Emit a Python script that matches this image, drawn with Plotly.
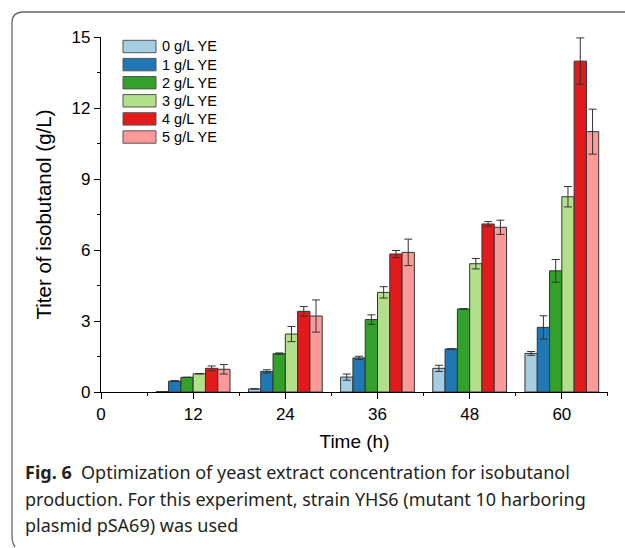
import plotly.graph_objects as go

# ---- data ----
times = [12, 24, 36, 48, 60]
series_names = ["0 g/L YE", "1 g/L YE", "2 g/L YE", "3 g/L YE", "4 g/L YE", "5 g/L YE"]
colors = ["#a6cee3", "#1f78b4", "#33a02c", "#b2df8a", "#e31a1c", "#fb9a99"]

ye0 = [0.02, 0.13, 0.63, 1.00, 1.63]
ye1 = [0.46, 0.87, 1.44, 1.82, 2.73]
ye2 = [0.62, 1.62, 3.06, 3.51, 5.12]
ye3 = [0.77, 2.45, 4.21, 5.42, 8.25]
ye4 = [1.00, 3.41, 5.83, 7.10, 13.98]
ye5 = [0.96, 3.21, 5.90, 6.96, 11.00]

err0 = [0.0, 0.0, 0.13, 0.13, 0.08]
err1 = [0.02, 0.07, 0.07, 0.0, 0.49]
err2 = [0.0, 0.03, 0.20, 0.0, 0.48]
err3 = [0.0, 0.32, 0.24, 0.22, 0.43]
err4 = [0.10, 0.20, 0.15, 0.10, 0.98]
err5 = [0.20, 0.68, 0.56, 0.30, 0.95]

values = [ye0, ye1, ye2, ye3, ye4, ye5]
errors = [err0, err1, err2, err3, err4, err5]

x_ticks = [0, 12, 24, 36, 48, 60]
y_ticks = [0, 3, 6, 9, 12, 15]

caption_lines = [
    "<b>Fig. 6</b>  Optimization of yeast extract concentration for isobutanol",
    "production. For this experiment, strain YHS6 (mutant 10 harboring",
    "plasmid pSA69) was used",
]

# ---- layout geometry (pixels) ----
W, H = 625, 548
L, R, T, B = 101, 608, 37, 392


def px(x):
    return (x - L) / (R - L)


def py(y):
    return (B - y) / (B - T)


AX_FONT = "Arial, 'Liberation Sans', sans-serif"

fig = go.Figure()
for name, col, vals, errs in zip(series_names, colors, values, errors):
    fig.add_trace(go.Bar(
        x=times, y=vals, name=name,
        marker=dict(color=col, line=dict(color="#333333", width=1)),
        error_y=dict(type="data", array=errs, visible=True,
                     color="#333333", thickness=1, width=4),
        showlegend=False,
    ))

shapes = []
annotations = []

# custom legend
for i, (name, col) in enumerate(zip(series_names, colors)):
    yc = 46.5 + 18.1 * i
    shapes.append(dict(type="rect", xref="paper", yref="paper",
                       x0=px(123), x1=px(156), y0=py(yc + 6.2), y1=py(yc - 6.2),
                       fillcolor=col, line=dict(color="#555555", width=1)))
    annotations.append(dict(xref="paper", yref="paper", x=px(160), y=py(yc),
                            xanchor="left", yanchor="middle", text=name,
                            showarrow=False,
                            font=dict(family=AX_FONT, size=14.5, color="#000")))

# figure frame (rounded border)
path = ("M {a},{b} Q {c},{d} {e},{f} L {g},{h} Q {i},{j} {k},{l} L {m},{n}").format(
    a=px(15), b=py(547), c=px(12), d=py(543), e=px(12), f=py(535),
    g=px(12), h=py(23), i=px(12), j=py(12), k=px(23), l=py(12),
    m=px(640), n=py(12))
shapes.append(dict(type="path", xref="paper", yref="paper", path=path,
                   line=dict(color="#666666", width=1.3)))

# caption
for k, line in enumerate(caption_lines):
    annotations.append(dict(xref="paper", yref="paper", x=px(23), y=py(472 + 26.5 * k),
                            xanchor="left", yanchor="middle", text=line,
                            showarrow=False,
                            font=dict(family="'Noto Sans', 'Open Sans', sans-serif",
                                      size=18, color="#231f20")))

fig.update_layout(
    width=W, height=H,
    margin=dict(l=L, r=W - R, t=T, b=H - B, pad=0),
    paper_bgcolor="white", plot_bgcolor="white",
    barmode="group", bargap=0.2, bargroupgap=0,
    shapes=shapes, annotations=annotations,
    font=dict(family=AX_FONT, color="#000"),
)
fig.update_xaxes(
    range=[0, 66.01], tickmode="array", tickvals=x_ticks,
    ticktext=[str(v) for v in x_ticks],
    showline=True, linecolor="#000", linewidth=1.2, mirror=False,
    ticks="outside", ticklen=6, tickwidth=1.2, tickcolor="#000",
    minor=dict(ticks="outside", ticklen=3, tickwidth=1.2, tickcolor="#000",
               tickmode="array", tickvals=[6, 18, 30, 42, 54, 66]),
    showgrid=False, zeroline=False,
    tickfont=dict(family=AX_FONT, size=17),
    title=dict(text="Time (h)", font=dict(family=AX_FONT, size=19), standoff=12),
)
fig.update_yaxes(
    range=[0, 15], tickmode="array", tickvals=y_ticks,
    ticktext=[str(v) for v in y_ticks],
    showline=True, linecolor="#000", linewidth=1.2,
    ticks="outside", ticklen=6, tickwidth=1.2, tickcolor="#000",
    minor=dict(ticks="outside", ticklen=3, tickwidth=1.2, tickcolor="#000",
               tickmode="array", tickvals=[1.5, 4.5, 7.5, 10.5, 13.5]),
    showgrid=False, zeroline=False,
    tickfont=dict(family=AX_FONT, size=17),
    title=dict(text="Titer of isobutanol (g/L)", font=dict(family=AX_FONT, size=20.5),
               standoff=14),
)

fig.write_html("out.html",
               config={"displayModeBar": False},
               post_script="document.body.style.margin='0';document.body.style.overflow='hidden';")
